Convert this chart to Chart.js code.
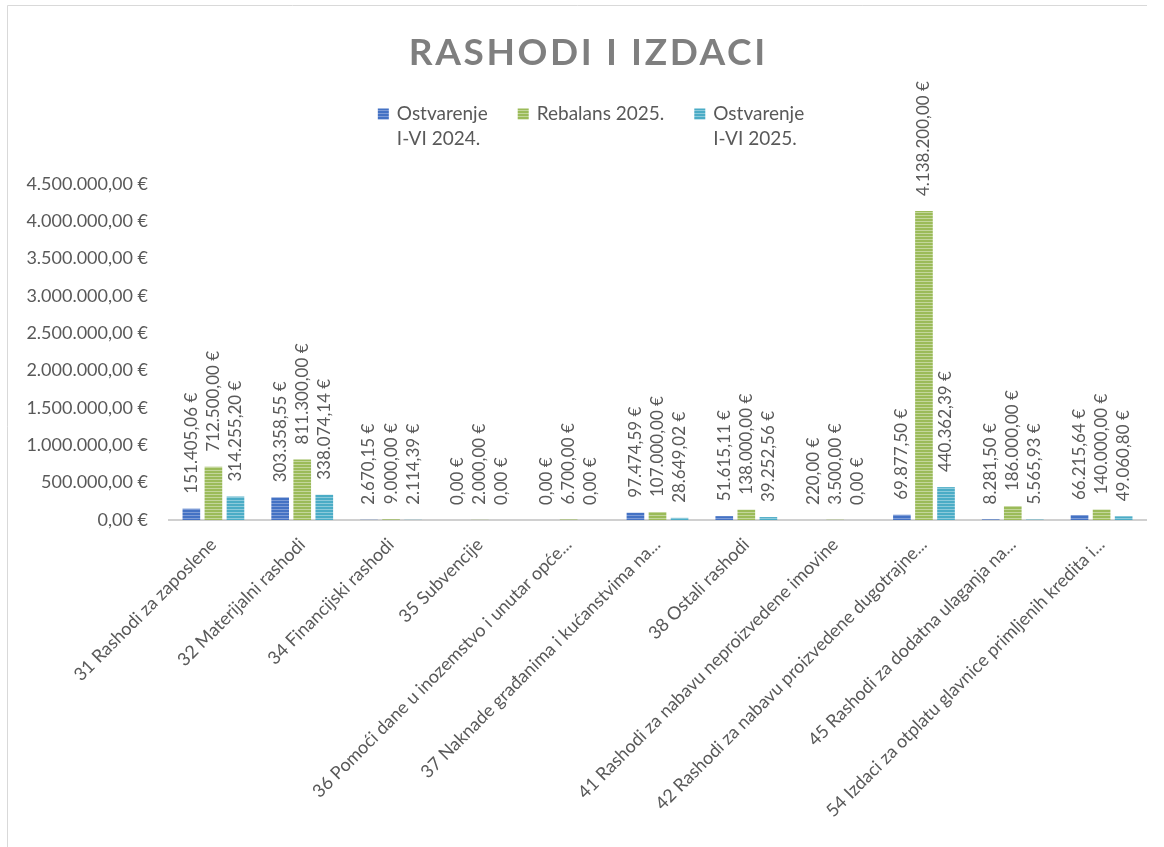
<!DOCTYPE html>
<html><head><meta charset="utf-8">
<script src="https://cdn.jsdelivr.net/npm/chart.js@4.4.1/dist/chart.umd.min.js"></script>
<style>html,body{margin:0;padding:0;background:#fff;}canvas{display:block;}</style>
</head><body>
<canvas id="c" width="1164" height="847"></canvas>
<script>
const categories = [
  "31 Rashodi za zaposlene",
  "32 Materijalni rashodi",
  "34 Financijski rashodi",
  "35 Subvencije",
  "36 Pomoći dane u inozemstvo i unutar opće...",
  "37 Naknade građanima i kućanstvima na...",
  "38 Ostali rashodi",
  "41 Rashodi za nabavu neproizvedene imovine",
  "42 Rashodi za nabavu proizvedene dugotrajne...",
  "45 Rashodi za dodatna ulaganja na...",
  "54 Izdaci za otplatu glavnice primljenih kredita i..."
];
const ostvarenje2024 = [151405.06, 303358.55, 2670.15, 0, 0, 97474.59, 51615.11, 220.00, 69877.50, 8281.50, 66215.64];
const rebalans2025 = [712500.00, 811300.00, 9000.00, 2000.00, 6700.00, 107000.00, 138000.00, 3500.00, 4138200.00, 186000.00, 140000.00];
const ostvarenje2025 = [314255.20, 338074.14, 2114.39, 0, 0, 28649.02, 39252.56, 0, 440362.39, 5565.93, 49060.80];
const seriesNames = [["Ostvarenje", "I-VI 2024."], ["Rebalans 2025."], ["Ostvarenje", "I-VI 2025."]];
const yAxisMax = 4500000;
const yAxisStep = 500000;
const chartTitle = "RASHODI I IZDACI";

const FONT = "Lato, 'Open Sans', sans-serif";
const TEXT = "#595959";

function fmtEuro(v) {
  const neg = v < 0;
  const s = Math.abs(v).toFixed(2);
  let [ip, dp] = s.split(".");
  ip = ip.replace(/\B(?=(\d{3})+(?!\d))/g, ".");
  return (neg ? "-" : "") + ip + "," + dp + " €";
}

function stripes(base, light) {
  const c = document.createElement("canvas");
  c.width = 4; c.height = 3;
  const x = c.getContext("2d");
  x.fillStyle = base; x.fillRect(0, 0, 4, 3);
  x.fillStyle = light; x.fillRect(0, 2, 4, 1);
  return x.createPattern(c, "repeat");
}

const colors = [
  { solid: "#4472C4", pat: stripes("#4472C4", "#7d9bd6") },
  { solid: "#9BBB59", pat: stripes("#9BBB59", "#c3d69b") },
  { solid: "#4BACC6", pat: stripes("#4BACC6", "#8ccadb") }
];

const seriesData = [ostvarenje2024, rebalans2025, ostvarenje2025];

const frame = {
  id: "frame",
  beforeDraw(chart) {
    const ctx = chart.ctx;
    ctx.save();
    ctx.fillStyle = "#fff";
    ctx.fillRect(0, 0, chart.width, chart.height);
    ctx.strokeStyle = "#d9d9d9";
    ctx.lineWidth = 1;
    ctx.beginPath();
    ctx.moveTo(7.5, chart.height);
    ctx.lineTo(7.5, 5.5);
    ctx.lineTo(1147, 5.5);
    ctx.stroke();
    ctx.restore();
  }
};

const titleLegend = {
  id: "titleLegend",
  afterDraw(chart) {
    const ctx = chart.ctx;
    ctx.save();
    // title
    ctx.font = "bold 37px " + FONT;
    ctx.fillStyle = "#7f7f7f";
    ctx.letterSpacing = "2.6px";
    ctx.textAlign = "left";
    ctx.textBaseline = "alphabetic";
    const tw = ctx.measureText(chartTitle).width - 2.6;
    ctx.fillText(chartTitle, 587 - tw / 2, 65);
    ctx.letterSpacing = "0px";
    // legend
    ctx.font = "19px " + FONT;
    const box = 11, boxGap = 8, itemGap = 30;
    const widths = seriesNames.map(lines => box + boxGap + Math.max(...lines.map(l => ctx.measureText(l).width)));
    const total = widths.reduce((a, b) => a + b, 0) + itemGap * (widths.length - 1);
    let x = 591 - total / 2;
    const y1 = 114, lh = 25;
    seriesNames.forEach((lines, i) => {
      ctx.fillStyle = colors[i].pat;
      ctx.fillRect(x, y1 - box / 2, box, box);
      ctx.fillStyle = TEXT;
      ctx.textBaseline = "middle";
      lines.forEach((l, k) => ctx.fillText(l, x + box + boxGap, y1 + k * lh));
      x += widths[i] + itemGap;
    });
    ctx.restore();
  }
};

const dataLabels = {
  id: "dataLabels",
  afterDatasetsDraw(chart) {
    const ctx = chart.ctx;
    ctx.save();
    ctx.font = "17px " + FONT;
    ctx.fillStyle = TEXT;
    ctx.textAlign = "left";
    ctx.textBaseline = "middle";
    chart.data.datasets.forEach((ds, di) => {
      const meta = chart.getDatasetMeta(di);
      meta.data.forEach((el, i) => {
        ctx.save();
        ctx.translate(el.x, el.y - 15);
        ctx.rotate(-Math.PI / 2);
        ctx.fillText(fmtEuro(ds.data[i]), 0, 0);
        ctx.restore();
      });
    });
    ctx.restore();
  }
};

new Chart(document.getElementById("c"), {
  type: "bar",
  data: {
    labels: categories,
    datasets: seriesData.map((d, i) => ({
      label: seriesNames[i].join(" "),
      data: d,
      backgroundColor: colors[i].pat,
      borderWidth: 0,
      categoryPercentage: 0.745,
      barPercentage: 0.8
    }))
  },
  options: {
    responsive: false,
    animation: false,
    devicePixelRatio: 1,
    layout: { padding: { top: 184, left: 8, right: 18, bottom: 0 } },
    plugins: { legend: { display: false }, title: { display: false }, tooltip: { enabled: false } },
    scales: {
      x: {
        grid: { display: false },
        border: { display: true, color: "#d0d0d0", width: 2 },
        ticks: {
          autoSkip: false, minRotation: 45, maxRotation: 45, padding: 6,
          color: TEXT, font: { family: FONT, size: 18 }
        },
        afterFit(s) { s.height = 847 - 520; }
      },
      y: {
        min: 0, max: yAxisMax,
        grid: { display: false, drawTicks: false, tickLength: 0 },
        border: { display: false },
        ticks: {
          stepSize: yAxisStep, padding: 21, color: TEXT,
          font: { family: FONT, size: 18 },
          callback: v => fmtEuro(v)
        },
        afterFit(s) { s.width = 169 - 8; }
      }
    }
  },
  plugins: [frame, dataLabels, titleLegend]
});
</script>
</body></html>
